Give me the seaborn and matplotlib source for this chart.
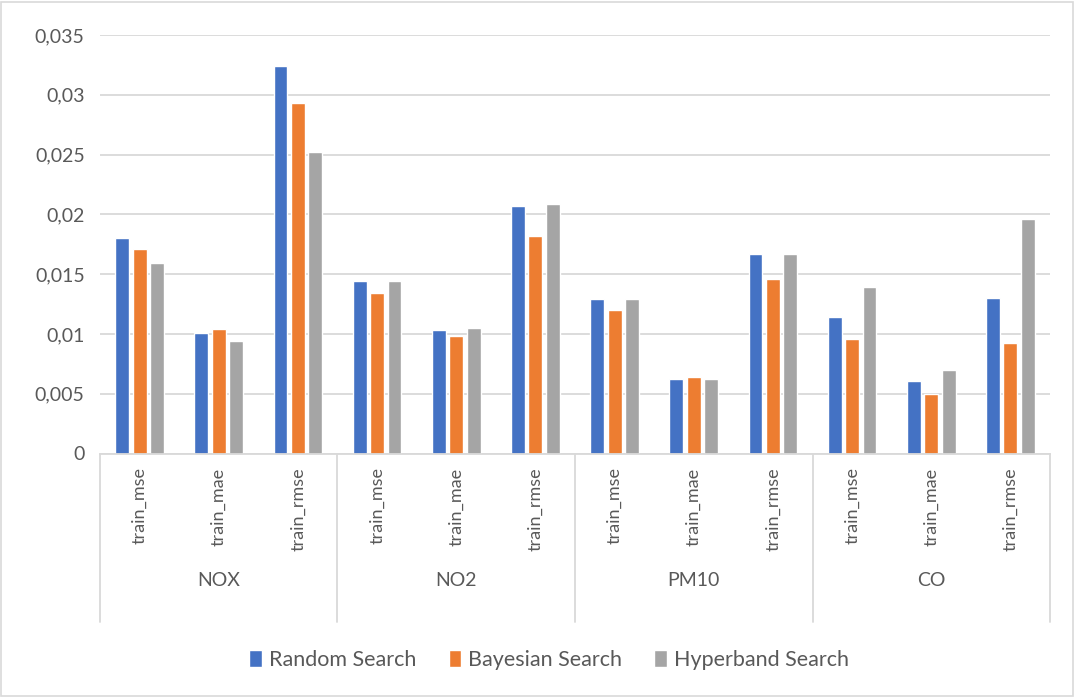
import matplotlib
matplotlib.use("Agg")
import matplotlib.pyplot as plt
from matplotlib.patches import Rectangle
from matplotlib.transforms import blended_transform_factory
import seaborn as sns
import pandas as pd

# ---- data ----
pollutants = ["NOX", "NO2", "PM10", "CO"]
metrics = ["train_mse", "train_mae", "train_rmse"]
methods = ["Random Search", "Bayesian Search", "Hyperband Search"]

random_search = [0.0180, 0.0101, 0.0324,
                 0.0144, 0.0103, 0.0207,
                 0.0129, 0.0062, 0.0167,
                 0.0114, 0.0061, 0.0130]
bayesian_search = [0.0171, 0.0104, 0.0293,
                   0.0134, 0.0098, 0.0182,
                   0.0120, 0.0064, 0.0146,
                   0.0096, 0.0050, 0.0092]
hyperband_search = [0.0159, 0.0094, 0.0252,
                    0.0144, 0.0105, 0.0209,
                    0.0129, 0.0062, 0.0167,
                    0.0139, 0.0070, 0.0196]

y_ticks = [0, 0.005, 0.01, 0.015, 0.02, 0.025, 0.03, 0.035]
y_tick_labels = ["0", "0,005", "0,01", "0,015", "0,02", "0,025", "0,03", "0,035"]

colors = ["#4472C4", "#ED7D31", "#A5A5A5"]
text_color = "#595959"
line_color = "#D9D9D9"

# ---- long-form table ----
rows = []
keys = [f"{p}|{m}" for p in pollutants for m in metrics]
for name, vals in zip(methods, [random_search, bayesian_search, hyperband_search]):
    for k, v in zip(keys, vals):
        rows.append({"key": k, "method": name, "value": v})
df = pd.DataFrame(rows)

sns.set_style("white")
plt.rcParams["font.family"] = ["Lato", "DejaVu Sans"]

W, H = 1075, 697
ax_top, ax_bottom = 35, 453.5
fig = plt.figure(figsize=(W / 100, H / 100), dpi=100)
ax = fig.add_axes([100 / W, 1 - ax_bottom / H, 950 / W, (ax_bottom - ax_top) / H])
ax_h = ax_bottom - ax_top

sns.barplot(data=df, x="key", y="value", hue="method", order=keys,
            hue_order=methods, palette=colors, width=0.66, gap=0.2,
            saturation=1, ax=ax, legend=True)

ax.set_ylim(0, 0.035)
ax.set_xlim(-0.5, len(keys) - 0.5)
ax.set_yticks(y_ticks)
ax.set_yticklabels(y_tick_labels, fontsize=14, color=text_color)
ax.yaxis.grid(True, color=line_color, linewidth=1.3)
ax.set_axisbelow(True)
ax.set_xlabel("")
ax.set_ylabel("")
ax.tick_params(axis="both", length=0)
ax.tick_params(axis="y", pad=11)

ax.set_xticks(range(len(keys)))
ax.set_xticklabels([k.split("|")[1] for k in keys], rotation=90,
                   fontsize=13, color=text_color, va="top", ha="center")
ax.tick_params(axis="x", pad=10)

for s in ["top", "right", "left"]:
    ax.spines[s].set_visible(False)
ax.spines["bottom"].set_color(line_color)
ax.spines["bottom"].set_linewidth(1.3)

# group separators and pollutant labels under the category axis
trans = blended_transform_factory(ax.transData, ax.transAxes)
sep_bottom = -(622 - ax_bottom) / ax_h
for i in range(len(pollutants) + 1):
    xpos = i * len(metrics) - 0.5
    ax.plot([xpos, xpos], [0, sep_bottom], transform=trans, color=line_color,
            linewidth=1.3, clip_on=False)
for i, p in enumerate(pollutants):
    xc = i * len(metrics) + 1
    ax.text(xc, -(580 - ax_bottom) / ax_h, p, transform=trans, ha="center",
            va="center", fontsize=14, color=text_color)

# legend below the chart
handles, labels = ax.get_legend_handles_labels()
ax.legend_.remove()
fig.legend(handles, labels, loc="center", bbox_to_anchor=(549 / W, 1 - 660 / H),
           ncol=3, frameon=False, fontsize=15.5, labelcolor=text_color,
           handlelength=0.6, handleheight=0.85, handletextpad=0.3,
           columnspacing=1.5)

# chart border
fig.add_artist(Rectangle((1 / W, 1 / H), 1 - 3 / W, 1 - 3 / H,
                         transform=fig.transFigure, fill=False,
                         edgecolor=line_color, linewidth=1.2))

fig.savefig("out.png", dpi=100)
